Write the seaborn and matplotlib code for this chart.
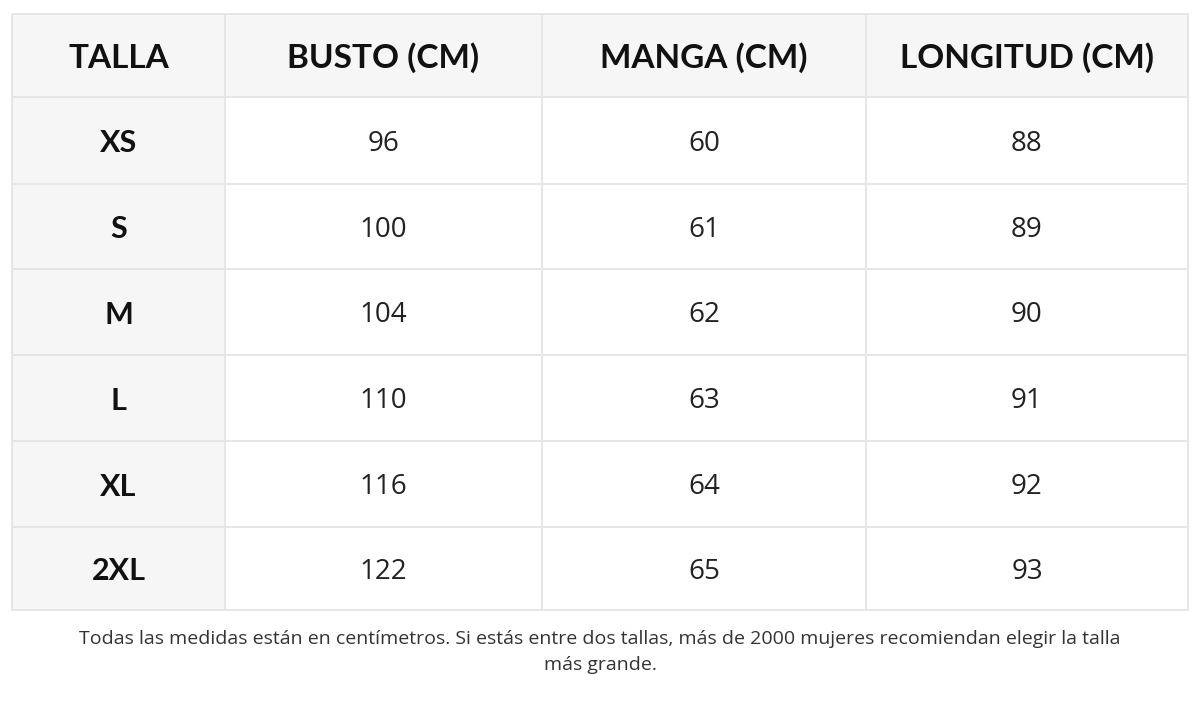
import numpy as np
import matplotlib
matplotlib.use("Agg")
import matplotlib.pyplot as plt
import seaborn as sns
from matplotlib.colors import ListedColormap

headers = ["TALLA", "BUSTO (CM)", "MANGA (CM)", "LONGITUD (CM)"]
sizes = ["XS", "S", "M", "L", "XL", "2XL"]
busto = [96, 100, 104, 110, 116, 122]
manga = [60, 61, 62, 63, 64, 65]
longitud = [88, 89, 90, 91, 92, 93]
note = "Todas las medidas están en centímetros. Si estás entre dos tallas, más de 2000 mujeres recomiendan elegir la talla\nmás grande."

sns.set_theme(style="white")
plt.rcParams['font.family'] = ['Lato', 'DejaVu Sans']

fig = plt.figure(figsize=(12, 7.02), dpi=100)
ax = fig.add_axes([0, 0, 1, 1])
ax.set_xlim(0, 1200); ax.set_ylim(702, 0); ax.axis("off")

xe = np.array([12, 225, 542, 866, 1188])
ye = np.array([14, 97, 184, 269, 355, 441, 527, 610])
nrow, ncol = len(ye) - 1, len(xe) - 1
shade = np.zeros((nrow, ncol))
shade[0, :] = 1
shade[:, 0] = 1
ax.pcolormesh(xe, ye, shade, cmap=ListedColormap(["#ffffff", "#f6f6f6"]),
              edgecolors="#e6e6e6", linewidth=1.2)

xc = (xe[:-1] + xe[1:]) / 2
yc = (ye[:-1] + ye[1:]) / 2
for j, h in enumerate(headers):
    ax.text(xc[j], yc[0], h, ha="center", va="center_baseline", fontsize=24,
            fontweight="bold", color="#111")
cols = [sizes, busto, manga, longitud]
for i in range(len(sizes)):
    for j, col in enumerate(cols):
        if j == 0:
            ax.text(xc[j], yc[i + 1], str(col[i]), ha="center", va="center_baseline",
                    fontsize=22, fontweight="bold", color="#111")
        else:
            ax.text(xc[j], yc[i + 1], str(col[i]), ha="center", va="center_baseline",
                    fontsize=20, fontweight="normal", color="#222",
                    family=["Open Sans", "DejaVu Sans"])
ax.text(600, 652, note, ha="center", va="center", fontsize=14, color="#333",
        linespacing=1.6, family=["Open Sans", "DejaVu Sans"])
fig.savefig("out.png", dpi=100, facecolor="white")
